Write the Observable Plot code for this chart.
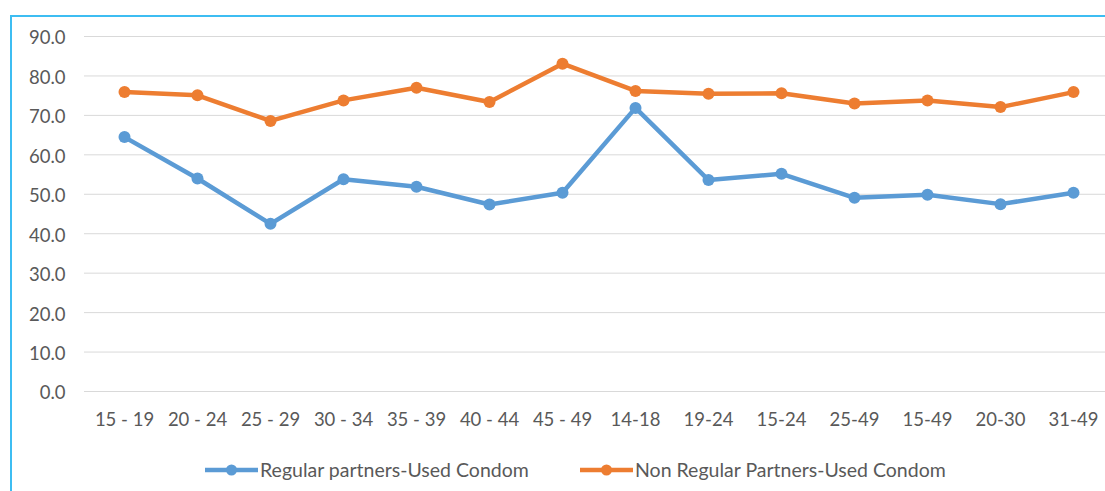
<!DOCTYPE html>
<html>
<head>
<meta charset="utf-8">
<script src="https://cdn.jsdelivr.net/npm/d3@7"></script>
<script src="https://cdn.jsdelivr.net/npm/@observablehq/plot@0.6"></script>
<style>
  html, body { margin: 0; padding: 0; background: #fff; overflow: hidden; }
  body { width: 1105px; height: 491px; position: relative; font-family: Lato, "Open Sans", sans-serif; }
  #frame { position: absolute; left: 10px; top: 15px; width: 1200px; height: 600px;
           border-left: 2px solid #3dbdf2; border-top: 2px solid #3dbdf2; box-sizing: border-box; }
  #chart { position: absolute; left: 0; top: 0; }
  #legend { position: absolute; left: 0; top: 457px; width: 1105px; height: 24px; font-size: 19.5px; color: #595959; }
  .item { position: absolute; top: 0; display: flex; align-items: center; height: 24px; }
  .item svg { margin-right: 2px; }
</style>
</head>
<body>
<div id="frame"></div>
<div id="chart"></div>
<div id="legend"></div>
<script>
const categories = ["15 - 19","20 - 24","25 - 29","30 - 34","35 - 39","40 - 44","45 - 49","14-18","19-24","15-24","25-49","15-49","20-30","31-49"];
const regular = [64.5, 54.0, 42.5, 53.8, 51.9, 47.4, 50.4, 71.9, 53.6, 55.2, 49.1, 49.9, 47.5, 50.4];
const nonRegular = [75.9, 75.1, 68.6, 73.8, 77.0, 73.4, 83.1, 76.2, 75.5, 75.6, 73.0, 73.8, 72.1, 75.9];
const seriesNames = ["Regular partners-Used Condom", "Non Regular Partners-Used Condom"];
const seriesColors = ["#5b9bd5", "#ed7d31"];
const yTicks = [0, 10, 20, 30, 40, 50, 60, 70, 80, 90];

const rows = [];
categories.forEach((c, i) => {
  rows.push({cat: c, value: regular[i], series: seriesNames[0]});
  rows.push({cat: c, value: nonRegular[i], series: seriesNames[1]});
});

const chart = Plot.plot({
  width: 1105,
  height: 440,
  marginLeft: 84,
  marginRight: 0,
  marginTop: 36,
  marginBottom: 49,
  style: {fontFamily: "Lato, 'Open Sans', sans-serif", fontSize: "18.5px", color: "#595959", background: "transparent", overflow: "visible"},
  x: {type: "point", domain: categories, range: [121, 1075], padding: 0, label: null},
  y: {domain: [0, 90], label: null},
  color: {domain: seriesNames, range: seriesColors},
  marks: [
    Plot.ruleY(yTicks, {stroke: "#d9d9d9", strokeWidth: 1}),
    Plot.axisY(yTicks, {tickSize: 0, tickPadding: 19, tickFormat: d3.format(".1f"), fill: "#595959", label: null, dy: 2}),
    Plot.axisX({tickSize: 0, tickPadding: 21, fill: "#595959", label: null}),
    Plot.line(rows, {x: "cat", y: "value", z: "series", stroke: "series", strokeWidth: 4.5, strokeLinejoin: "round"}),
    Plot.dot(rows, {x: "cat", y: "value", fill: "series", r: 6, stroke: null})
  ]
});
document.getElementById("chart").appendChild(chart);

const legend = document.getElementById("legend");
const positions = [205, 580];
seriesNames.forEach((name, i) => {
  const div = document.createElement("div");
  div.className = "item";
  div.style.left = positions[i] + "px";
  div.innerHTML = `<svg width="53" height="14"><line x1="0" y1="8" x2="53" y2="8" stroke="${seriesColors[i]}" stroke-width="4.5"/><circle cx="26.5" cy="8" r="5.5" fill="${seriesColors[i]}"/></svg><span>${name}</span>`;
  legend.appendChild(div);
});
</script>
</body>
</html>
